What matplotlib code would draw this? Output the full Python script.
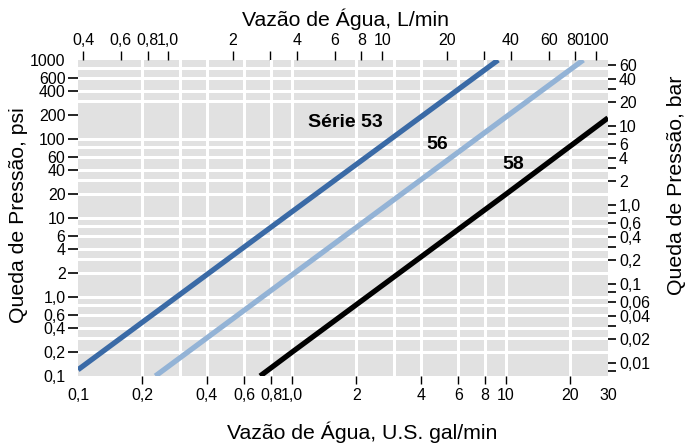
import matplotlib
matplotlib.use("Agg")
import matplotlib.pyplot as plt

plt.rcParams['font.family'] = ['Liberation Sans', 'DejaVu Sans']

# ---- data (flow in US gal/min, pressure drop in psi) ----
s53_flow = [0.1, 1.0, 9.2]
s53_psi = [0.12, 12.0, 1000.0]
s56_flow = [0.23, 1.0, 10.0, 23.0]
s56_psi = [0.1, 1.9, 190.0, 1000.0]
s58_flow = [0.71, 1.0, 10.0, 30.0]
s58_psi = [0.1, 0.2, 20.0, 185.0]
series_names = ["Série 53", "56", "58"]

x_ticks = [0.1, 0.2, 0.4, 0.6, 0.8, 1, 2, 4, 6, 8, 10, 20, 30]
x_labels = ["0,1", "0,2", "0,4", "0,6", "0,8", "1,0", "2", "4", "6", "8", "10", "20", "30"]
y_ticks = [0.1, 0.2, 0.4, 0.6, 1, 2, 4, 6, 10, 20, 40, 60, 100, 200, 400, 600, 1000]
y_labels = ["0,1", "0,2", "0,4", "0,6", "1,0", "2", "4", "6", "10", "20", "40", "60",
            "100", "200", "400", "600", "1000"]
top_ticks = [0.4, 0.6, 0.8, 1, 2, 3, 4, 6, 8, 10, 20, 30, 40, 60, 80, 100]
top_labels = ["0,4", "0,6", "0,8", "1,0", "2", "", "4", "6", "8", "10", "20", "", "40", "60", "80", "100"]
right_ticks = [60, 40, 20, 10, 6, 4, 2, 1, 0.6, 0.4, 0.2, 0.1, 0.06, 0.04, 0.02, 0.01]
right_labels = ["60", "40", "20", "10", "6", "4", "2", "1,0", "0,6", "0,4", "0,2", "0,1",
                "0,06", "0,04", "0,02", "0,01"]
right_minor = [30, 8, 3, 0.8, 0.3, 0.08, 0.03, 0.008]
grid_x = [0.2, 0.3, 0.4, 0.6, 0.8, 1, 2, 3, 4, 6, 8, 10, 20]
grid_y = [0.2, 0.3, 0.4, 0.6, 0.8, 1, 2, 3, 4, 6, 8, 10, 20, 30, 40, 60, 80, 100,
          300, 400, 600, 800]

L_PER_GAL = 3.78541
PSI_PER_BAR = 14.5038

W, H = 686, 443
fig = plt.figure(figsize=(W / 100, H / 100), dpi=100)
x0, x1, y0, y1 = 78, 608, 60, 376
ax = fig.add_axes([x0 / W, 1 - y1 / H, (x1 - x0) / W, (y1 - y0) / H])
ax.set_xscale('log')
ax.set_yscale('log')
ax.set_xlim(0.1, 30)
ax.set_ylim(0.1, 1000)
ax.set_facecolor('#e1e1e1')
for s in ax.spines.values():
    s.set_visible(False)

for gx in grid_x:
    ax.axvline(gx, color='white', lw=2.2, zorder=1)
for gy in grid_y:
    ax.axhline(gy, color='white', lw=2.2, zorder=1)

ax.plot(s53_flow, s53_psi, color='#3a6aa6', lw=3.8, zorder=3, solid_capstyle='butt')
ax.plot(s56_flow, s56_psi, color='#93b3d6', lw=3.8, zorder=3, solid_capstyle='butt')
ax.plot(s58_flow, s58_psi, color='black', lw=3.8, zorder=3, solid_capstyle='butt')

ax.text(1.77, 160, series_names[0], fontsize=14, fontweight='bold', ha='center', va='center')
ax.text(4.76, 84, series_names[1], fontsize=14, fontweight='bold', ha='center', va='center')
ax.text(10.8, 47, series_names[2], fontsize=14, fontweight='bold', ha='center', va='center')

TS = 11.5
ax.minorticks_off()
ax.set_xticks(x_ticks)
ax.set_xticklabels(x_labels)
ax.set_yticks(y_ticks)
ax.set_yticklabels(y_labels)
ax.tick_params(axis='x', direction='out', length=6, width=1, pad=3, labelsize=TS)
ax.tick_params(axis='y', direction='out', length=7, width=1.2, pad=2, labelsize=TS)
xt = ax.xaxis.get_major_ticks()
xt[0].tick1line.set_visible(False)
xt[-1].tick1line.set_visible(False)
yt = ax.yaxis.get_major_ticks()
yt[0].tick1line.set_visible(False)
yt[-1].tick1line.set_visible(False)

top = ax.secondary_xaxis('top', functions=(lambda q: q * L_PER_GAL, lambda q: q / L_PER_GAL))
top.set_xscale('log')
top.minorticks_off()
top.set_xticks(top_ticks)
top.set_xticklabels(top_labels)
top.tick_params(axis='x', direction='out', length=6.5, width=1, pad=2, labelsize=TS)
top.spines['top'].set_visible(False)

right = ax.secondary_yaxis('right', functions=(lambda p: p / PSI_PER_BAR, lambda b: b * PSI_PER_BAR))
right.set_yscale('log')
right.set_yticks(right_ticks)
right.set_yticklabels(right_labels)
right.set_yticks(right_minor, minor=True)
right.tick_params(axis='y', which='major', direction='out', length=6, width=1.2, pad=2, labelsize=TS)
right.tick_params(axis='y', which='minor', direction='out', length=6, width=1.2)
right.yaxis.set_minor_formatter(matplotlib.ticker.NullFormatter())
right.spines['right'].set_visible(False)

TT = 15.3
fig.text(345 / W, 1 - 19 / H, "Vazão de Água, L/min", fontsize=TT, ha='center', va='center')
fig.text(362 / W, 1 - 432 / H, "Vazão de Água, U.S. gal/min", fontsize=TT, ha='center', va='center')
fig.text(19 / W, 1 - 215 / H, "Queda de Pressão, psi", fontsize=TT, ha='center', va='center', rotation=90)
fig.text(676 / W, 1 - 185 / H, "Queda de Pressão, bar", fontsize=TT, ha='center', va='center', rotation=90)

fig.savefig("out.png", dpi=100)
